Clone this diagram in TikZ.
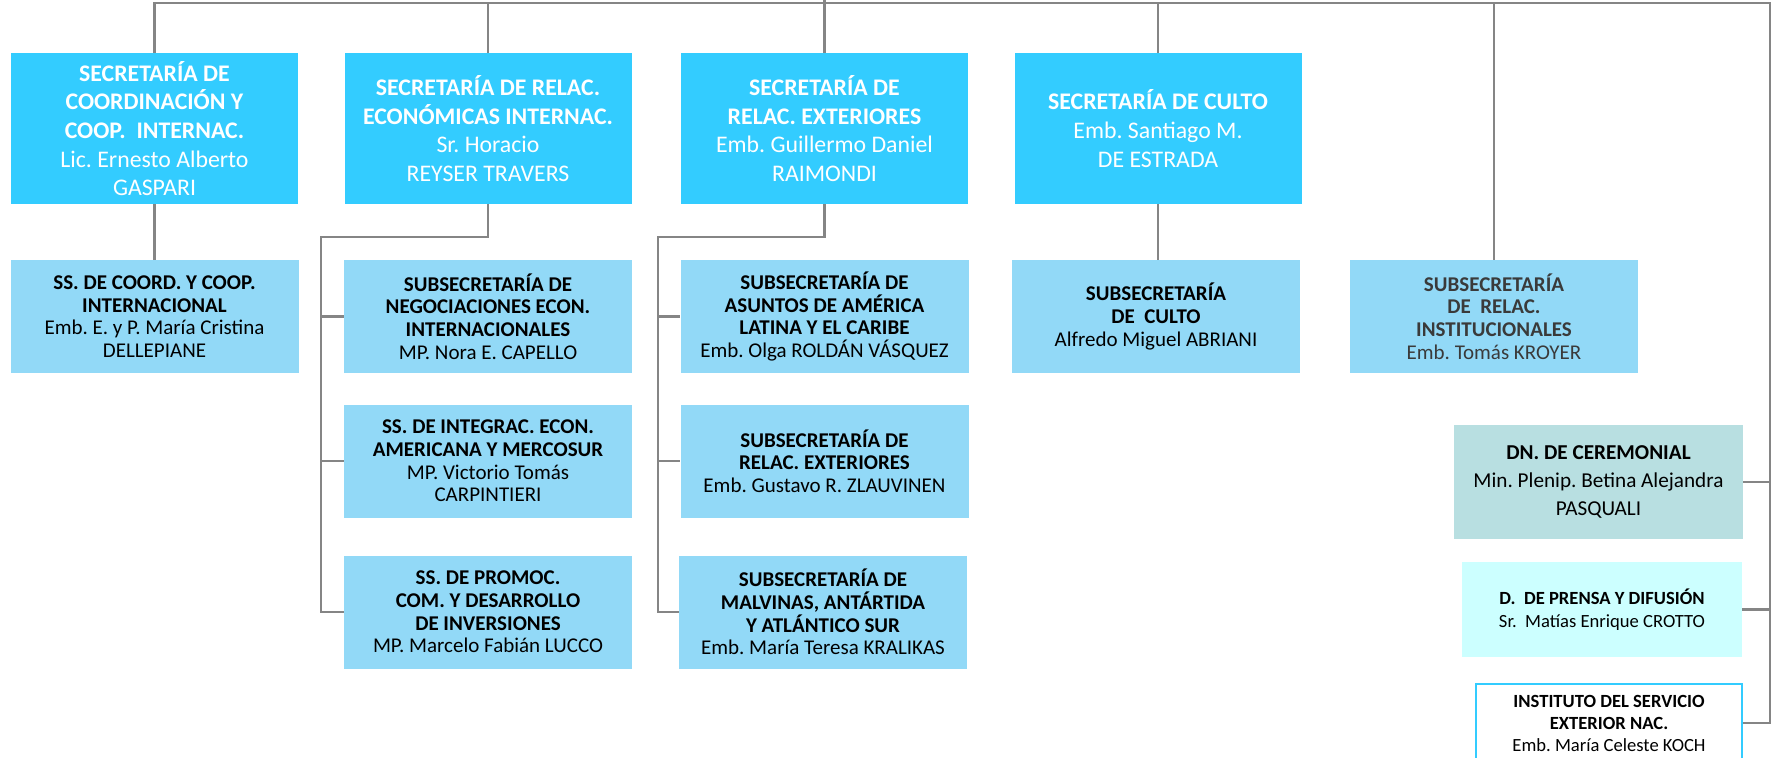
\documentclass[tikz,border=0pt]{standalone}
\usepackage{fontspec}
\setmainfont{Carlito}
\usetikzlibrary{positioning,calc}
\frenchspacing
\definecolor{secblue}{HTML}{33CCFF}
\definecolor{subblue}{HTML}{92D9F7}
\definecolor{ceremc}{HTML}{B8DFE1}
\definecolor{prensac}{HTML}{CCFFFF}
\definecolor{linkgray}{HTML}{858585}
\definecolor{darktxt}{HTML}{3A3A3A}
\tikzset{
  box/.style    = {inner sep=0pt, align=center},
  sec/.style    = {box, fill=secblue, text=white, minimum width=143.5pt,
                   minimum height=75.5pt, font=\fontsize{11.9}{14.35}\selectfont},
  sub/.style    = {box, fill=subblue, minimum width=144pt, minimum height=56.5pt,
                   font=\fontsize{10.5}{11.35}\selectfont},
  cerem/.style  = {box, fill=ceremc, minimum width=144.5pt, minimum height=57pt,
                   font=\fontsize{10.6}{14}\selectfont},
  prensa/.style = {box, fill=prensac, minimum width=140pt, minimum height=47.5pt,
                   font=\fontsize{9.3}{11.7}\selectfont},
  inst/.style   = {box, draw=secblue, line width=1pt, fill=white, minimum width=133pt,
                   minimum height=39pt, font=\fontsize{9.3}{11}\selectfont},
  link/.style   = {draw=linkgray, line width=1.1pt}
}

\begin{document}
\begin{tikzpicture}[x=0.5pt, y=0.5pt]
\useasboundingbox (0,0) rectangle (1779,-757);

% secretarias
\node[sec] (sec1) at (154.5,-128.5)
  {\textbf{SECRETARÍA DE}\\\textbf{COORDINACIÓN Y}\\\textbf{COOP.\ \ INTERNAC.}\\
   Lic. Ernesto Alberto\\GASPARI};
\node[sec] (sec2) at (488,-128.5)
  {\textbf{SECRETARÍA DE RELAC.}\\\textbf{ECONÓMICAS INTERNAC.}\\
   Sr. Horacio\\REYSER TRAVERS};
\node[sec] (sec3) at (824.5,-128.5)
  {\textbf{SECRETARÍA DE}\\\textbf{RELAC. EXTERIORES}\\
   Emb. Guillermo Daniel\\RAIMONDI};
\node[sec] (sec4) at (1158,-128.5)
  {\textbf{SECRETARÍA DE CULTO}\\Emb. Santiago M.\\DE ESTRADA};

% subsecretarias
\node[sub] (ss1) at (154.5,-316.5)
  {\textbf{SS. DE COORD. Y COOP.}\\\textbf{INTERNACIONAL}\\
   Emb. E. y P. María Cristina\\DELLEPIANE};
\node[sub] (ss2a) at (488,-316.5)
  {\textbf{SUBSECRETARÍA DE}\\\textbf{NEGOCIACIONES ECON.}\\\textbf{INTERNACIONALES}\\
   MP. Nora E. CAPELLO};
\node[sub] (ss2b) at (488,-461)
  {\textbf{SS. DE INTEGRAC. ECON.}\\\textbf{AMERICANA Y MERCOSUR}\\
   MP. Victorio Tomás\\CARPINTIERI};
\node[sub] (ss2c) at (488,-612)
  {\textbf{SS. DE PROMOC.}\\\textbf{COM. Y DESARROLLO}\\\textbf{DE INVERSIONES}\\
   MP. Marcelo Fabián LUCCO};
\node[sub] (ss3a) at (824.5,-316.5)
  {\textbf{SUBSECRETARÍA DE}\\\textbf{ASUNTOS DE AMÉRICA}\\\textbf{LATINA Y EL CARIBE}\\
   Emb. Olga ROLDÁN VÁSQUEZ};
\node[sub] (ss3b) at (824.5,-461)
  {\textbf{SUBSECRETARÍA DE}\\\textbf{RELAC. EXTERIORES}\\
   Emb. Gustavo R. ZLAUVINEN};
\node[sub] (ss3c) at (823,-612)
  {\textbf{SUBSECRETARÍA DE}\\\textbf{MALVINAS, ANTÁRTIDA}\\\textbf{Y ATLÁNTICO SUR}\\
   Emb. María Teresa KRALIKAS};
\node[sub] (ss4) at (1156,-316.5)
  {\textbf{SUBSECRETARÍA}\\\textbf{DE\ \ CULTO}\\Alfredo Miguel ABRIANI};
\node[sub, text=darktxt] (ss5) at (1494,-316.5)
  {\textbf{SUBSECRETARÍA}\\\textbf{DE\ \ RELAC.}\\\textbf{INSTITUCIONALES}\\
   Emb. Tomás KROYER};

% direcciones
\node[cerem] (dn) at (1598.5,-482)
  {\textbf{DN. DE CEREMONIAL}\\Min. Plenip. Betina Alejandra\\PASQUALI};
\node[prensa] (prensa) at (1602,-609.5)
  {\textbf{D.\ \ DE PRENSA Y DIFUSIÓN}\\Sr.\ \ Matías Enrique CROTTO};
\node[inst, anchor=north] (isen) at (1609,-683)
  {\textbf{INSTITUTO DEL SERVICIO}\\\textbf{EXTERIOR NAC.}\\Emb. María Celeste KOCH};

% buses
\coordinate (root) at (824.5,0);
\coordinate (busR) at (1770,-3);
\coordinate (bus2) at (321,-237);
\coordinate (bus3) at (658,-237);

\draw[link] (root) -- (sec3.north);
\draw[link] (sec1.north) |- (busR) |- (isen.east);
\draw[link] (sec2.north) -- (sec2.north |- busR);
\draw[link] (sec4.north) -- (sec4.north |- busR);
\draw[link] (ss5.north) -- (ss5.north |- busR);
\draw[link] (dn.east) -- (dn.east -| busR);
\draw[link] (prensa.east) -- (prensa.east -| busR);

\draw[link] (sec1.south) -- (ss1.north);
\draw[link] (sec4.south) -- (sec4.south |- ss4.north);
\draw[link] (sec2.south) |- (bus2) |- (ss2c.west);
\draw[link] (bus2 |- ss2a.west) -- (ss2a.west);
\draw[link] (bus2 |- ss2b.west) -- (ss2b.west);
\draw[link] (sec3.south) |- (bus3) |- (ss3c.west);
\draw[link] (bus3 |- ss3a.west) -- (ss3a.west);
\draw[link] (bus3 |- ss3b.west) -- (ss3b.west);
\end{tikzpicture}
\end{document}
